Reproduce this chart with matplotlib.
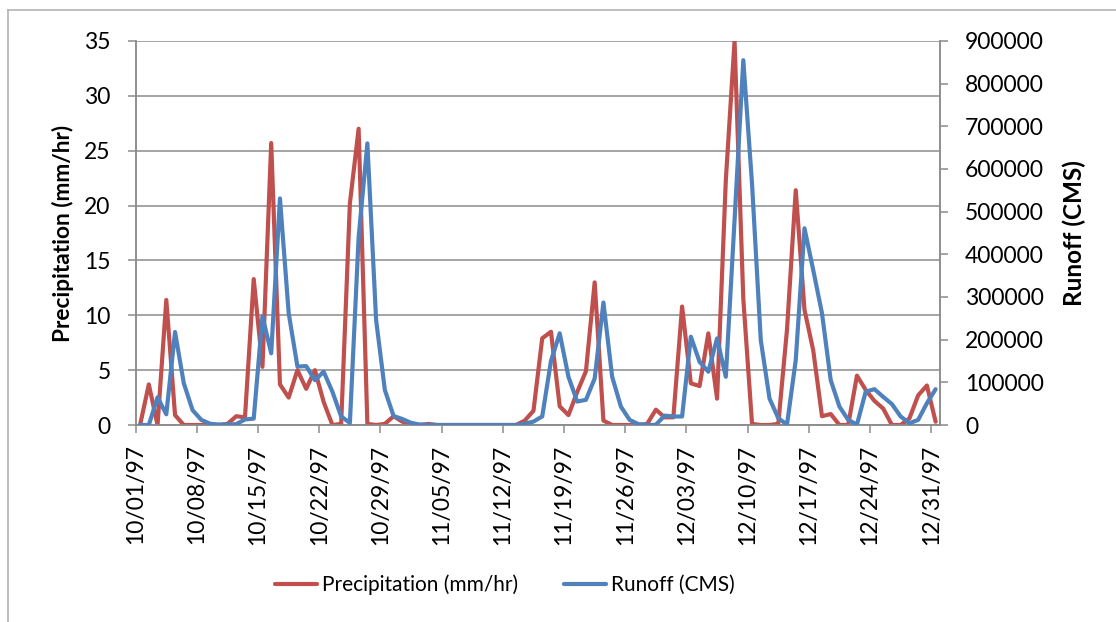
import numpy as np
import pandas as pd
import matplotlib
matplotlib.use("Agg")
import matplotlib.pyplot as plt
import matplotlib.dates as mdates
from matplotlib.lines import Line2D

# Daily values, 10/01/97 .. 12/31/97
dates = pd.date_range("1997-10-01", "1997-12-31", freq="D")

precip = [
    0, 3.7, 0, 11.4, 0.9, 0, 0, 0, 0, 0,
    0.1, 0.8, 0.7, 13.3, 5.3, 25.7, 3.7, 2.5, 5.0, 3.3,
    5.0, 2.1, 0, 0.1, 20.2, 27.0, 0.1, 0, 0.1, 0.8,
    0.3, 0, 0, 0.1, 0, 0, 0, 0, 0, 0,
    0, 0, 0, 0, 0.4, 1.3, 7.9, 8.5, 1.7, 0.9,
    3.0, 4.9, 13.0, 0.4, 0, 0, 0, 0, 0.1, 1.4,
    0.7, 0.7, 10.8, 3.8, 3.55, 8.35, 2.4, 22.3, 35.0, 11.5,
    0.1, 0, 0, 0.1, 8.7, 21.4, 10.5, 6.8, 0.8, 1.0,
    0, 0, 4.5, 3.2, 2.2, 1.5, 0, 0, 0.6, 2.7,
    3.6, 0.3,
]

runoff = [
    0, 0, 65000, 25000, 218000, 98000, 35000, 12000, 3000, 1000,
    1000, 2000, 13000, 15000, 255000, 168000, 531000, 262000, 137000, 138000,
    105000, 125000, 78000, 20000, 5000, 440000, 660000, 246000, 82000, 21000,
    14000, 5000, 1000, 0, 0, 0, 0, 0, 0, 0,
    0, 0, 0, 0, 3000, 8000, 20000, 150000, 215000, 113000,
    55000, 59000, 109000, 287000, 113000, 43000, 12000, 2000, 0, 500,
    22000, 20000, 20000, 207000, 148000, 125000, 203000, 113000, 480000, 855000,
    565000, 199000, 62000, 16000, 1000, 152000, 461000, 363000, 262000, 105000,
    43000, 12000, 1000, 78000, 84000, 66000, 49000, 20000, 4000, 12000,
    51000, 84000,
]

red = "#C0504D"
blue = "#4F81BD"
grid_gray = "#8C8C8C"

plt.rcParams["font.family"] = ["Lato", "DejaVu Sans"]

fig = plt.figure(figsize=(11.16, 6.22), dpi=100)
W, H = 1116, 622
ax = fig.add_axes([135.7 / W, 1 - 425 / H, (940 - 135.7) / W, (425 - 41) / H])
ax2 = ax.twinx()

# points sit in the middle of each day slot
x = dates + pd.Timedelta(hours=12)

ax.plot(x, precip, color=red, lw=3, solid_capstyle="round",
        solid_joinstyle="round", zorder=3)
ax2.plot(x, runoff, color=blue, lw=3, solid_capstyle="round",
         solid_joinstyle="round", zorder=3)

ax.set_xlim(dates[0], dates[-1] + pd.Timedelta(days=1))
ax.set_ylim(0, 35)
ax2.set_ylim(0, 900000)
ax.set_yticks(np.arange(0, 36, 5))
ax2.set_yticks(np.arange(0, 900001, 100000))

ax.set_xticks(dates[::7])
ax.xaxis.set_major_formatter(mdates.DateFormatter("%m/%d/%y"))
for lbl in ax.get_xticklabels():
    lbl.set_rotation(90)

ax.grid(axis="y", color=grid_gray, lw=1.1)
ax.set_axisbelow(True)

for a in (ax, ax2):
    for s in a.spines.values():
        s.set_color(grid_gray)
        s.set_linewidth(1.1)
    a.spines["top"].set_visible(False)
    a.tick_params(colors=grid_gray, labelcolor="black", labelsize=16.5,
                  length=6, width=1.1, direction="out")
ax.tick_params(axis="y", pad=12)
ax2.tick_params(axis="y", pad=12)
ax.tick_params(axis="x", pad=8)

ax.set_ylabel("Precipitation (mm/hr)", fontsize=16.3, fontweight="bold")
ax.yaxis.set_label_coords(-0.077, 0.5)
ax2.set_ylabel("Runoff (CMS)", fontsize=17.5, fontweight="bold")
ax2.yaxis.set_label_coords(1.152, 0.5)

# chart-area border (cropped on right and bottom)
fig.add_artist(Line2D([8 / W, 8 / W], [0, 1 - 10 / H], color="#B4B4B4", lw=1.2))
fig.add_artist(Line2D([8 / W, 1], [1 - 10 / H, 1 - 10 / H], color="#B4B4B4", lw=1.2))

handles = [Line2D([], [], color=red, lw=3, solid_capstyle="round"),
           Line2D([], [], color=blue, lw=3, solid_capstyle="round")]
fig.legend(handles, ["Precipitation (mm/hr)", "Runoff (CMS)"], loc="center",
           bbox_to_anchor=(505 / W, 1 - 585 / H), ncol=2, frameon=False,
           fontsize=15, handlelength=2.0, handletextpad=0.25,
           columnspacing=2.2)

fig.savefig("out.png", dpi=100)
